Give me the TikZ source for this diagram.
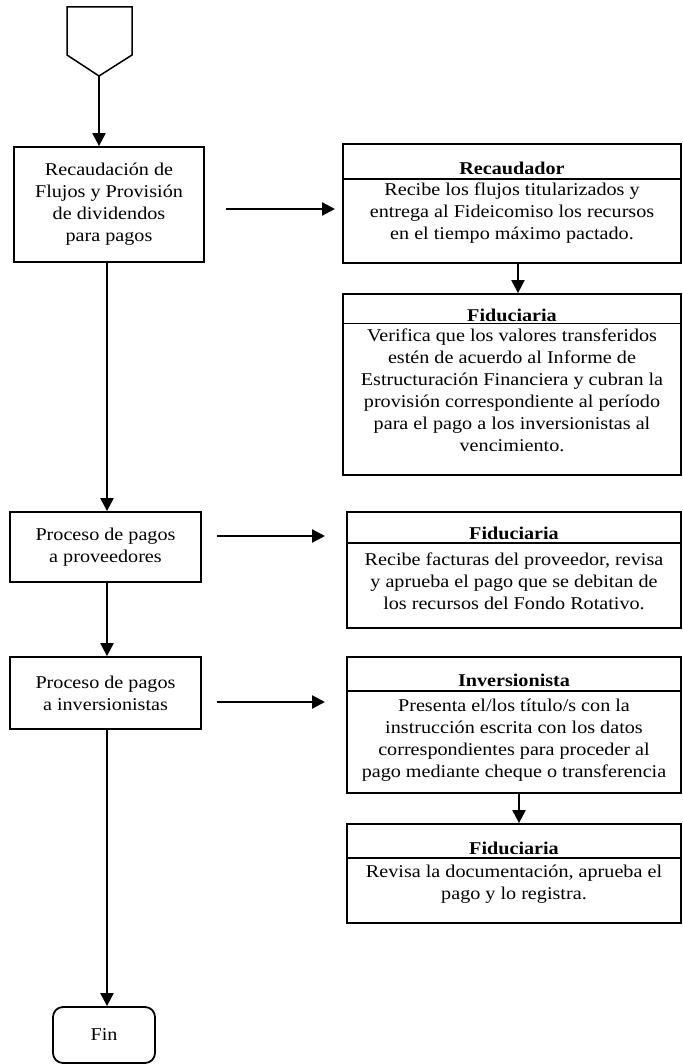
\documentclass[tikz,border=0pt]{standalone}
\usepackage{fontspec}
\setmainfont{Liberation Serif}[FakeStretch=1.12]
\usetikzlibrary{arrows.meta}
\begin{document}
\begin{tikzpicture}[x=1pt,y=-1pt,
  every node/.style={font=\fontsize{18}{22}\selectfont},
  lbox/.style={draw, line width=1.8pt, align=center, inner sep=0},
  rbox/.style={draw, line width=1.8pt, inner sep=0},
  divline/.style={line width=1.4pt},
  ttl/.style={font=\fontsize{18}{22}\selectfont\bfseries, anchor=base, inner sep=0},
  bodytxt/.style={align=center, inner sep=0, anchor=north},
  arr/.style={line width=2.2pt, -{Triangle[length=13pt,width=13pt]}},
  conn/.style={line width=2.2pt}
]
\useasboundingbox (0,0) rectangle (682,1064);

% start symbol
\draw[line width=1.5pt] (67,7) -- (132,7) -- (132,55) -- (99,76) -- (67,55) -- cycle;
\coordinate (start) at (99,76);
\coordinate (lx) at (107,0);
\coordinate (rx1) at (518,0);
\coordinate (rx2) at (519,0);

% left column
\node[lbox, minimum width=190pt, minimum height=115pt] (b1) at (109,204.5)
  {Recaudación de\\Flujos y Provisión\\de dividendos\\para pagos};
\node[lbox, minimum width=191pt, minimum height=70pt] (b2) at (105.5,547)
  {Proceso de pagos\\a proveedores};
\node[lbox, minimum width=191pt, minimum height=72pt] (b3) at (105.5,693)
  {Proceso de pagos\\a inversionistas};
\node[lbox, rounded corners=10pt, minimum width=102pt, minimum height=56pt] (fin) at (104,1035)
  {Fin};

% right column boxes
\node[rbox, minimum width=338pt, minimum height=119pt] (rec) at (512,203.5) {};
\draw[divline] (rec.west |- 0,179) -- (rec.east |- 0,179);
\node[ttl] (rect) at (512,175) {Recaudador};
\node[bodytxt] (recb) at (512,179.6) {\strut Recibe los flujos titularizados y\\entrega al Fideicomiso los recursos\\en el tiempo máximo pactado.};

\node[rbox, minimum width=338pt, minimum height=181pt] (f1) at (512,384.5) {};
\draw[divline] (f1.west |- 0,323.5) -- (f1.east |- 0,323.5);
\node[ttl] (f1t) at (512,321) {Fiduciaria};
\node[bodytxt] (f1b) at (512,325.6) {\strut Verifica que los valores transferidos\\estén de acuerdo al Informe de\\Estructuración Financiera y cubran la\\provisión correspondiente al período\\para el pago a los inversionistas al\\vencimiento.};

\node[rbox, minimum width=334pt, minimum height=116pt] (f2) at (514,570) {};
\draw[divline] (f2.west |- 0,543) -- (f2.east |- 0,543);
\node[ttl] (f2t) at (514,539) {Fiduciaria};
\node[bodytxt] (f2b) at (514,549.6) {\strut Recibe facturas del proveedor, revisa\\y aprueba el pago que se debitan de\\los recursos del Fondo Rotativo.};

\node[rbox, minimum width=334pt, minimum height=136pt] (inv) at (514,725) {};
\draw[divline] (inv.west |- 0,691) -- (inv.east |- 0,691);
\node[ttl] (invt) at (514,686) {Inversionista};
\node[bodytxt] (invb) at (514,695.6) {\strut Presenta el/los título/s con la\\instrucción escrita con los datos\\correspondientes para proceder al\\pago mediante cheque o transferencia};

\node[rbox, minimum width=334pt, minimum height=99pt] (f3) at (514,873.5) {};
\draw[divline] (f3.west |- 0,858) -- (f3.east |- 0,858);
\node[ttl] (f3t) at (514,854) {Fiduciaria};
\node[bodytxt] (f3b) at (514,861.6) {\strut Revisa la documentación, aprueba el\\pago y lo registra.};

% horizontal arrows (free ends)
\coordinate (h1s) at (226,209); \coordinate (h1e) at (335,209);
\coordinate (h2s) at (217,536); \coordinate (h2e) at (325,536);
\coordinate (h3s) at (217,702); \coordinate (h3e) at (325,702);
\draw[arr] (h1s) -- (h1e);
\draw[arr] (h2s) -- (h2e);
\draw[arr] (h3s) -- (h3e);

% vertical connectors
\draw[arr] (start) -- (start |- b1.north);
\draw[arr] (b1.south -| lx) -- (lx |- b2.north);
\draw[arr] (b2.south -| lx) -- (lx |- b3.north);
\draw[arr] (b3.south -| lx) -- (lx |- fin.north);
\draw[arr] (rec.south -| rx1) -- (rx1 |- f1.north);
\draw[arr] (inv.south -| rx2) -- (rx2 |- f3.north);
\end{tikzpicture}
\end{document}
